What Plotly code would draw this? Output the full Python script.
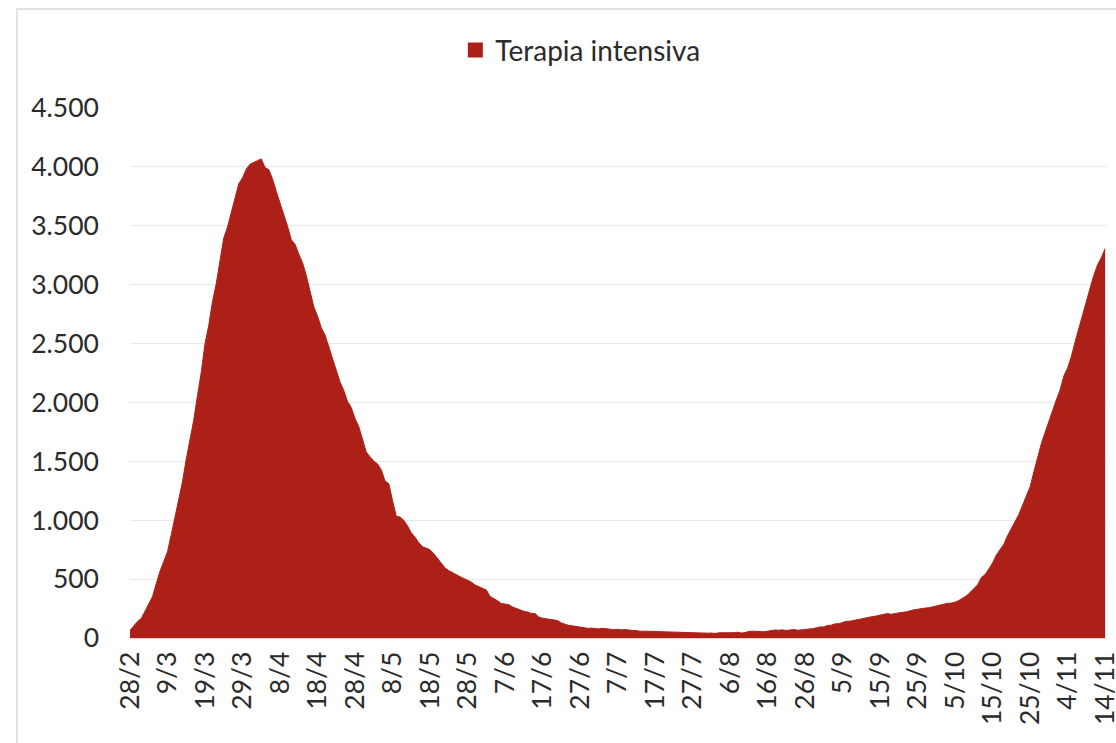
import pandas as pd
import plotly.graph_objects as go

# Pazienti in terapia intensiva, valori giornalieri (28/2 - 14/11)
feb = [64, 105]
mar = [140, 166, 229, 295, 351, 462, 567, 650, 733, 877, 1028, 1153, 1328, 1518, 1672,
       1851, 2060, 2257, 2498, 2655, 2857, 3009, 3204, 3396, 3489, 3612, 3732, 3856, 3906,
       3981, 4023]
apr = [4035, 4053, 4068, 3994, 3977, 3898, 3792, 3693, 3605, 3497, 3381, 3343, 3260, 3186,
       3079, 2936, 2812, 2733, 2635, 2573, 2471, 2384, 2267, 2173, 2102, 2009, 1956, 1863,
       1795, 1694]
may = [1578, 1539, 1501, 1479, 1427, 1333, 1311, 1168, 1034, 1027, 999, 952, 893, 855, 808,
       775, 762, 749, 716, 676, 640, 595, 572, 553, 541, 521, 505, 489, 475, 450, 435]
jun = [424, 408, 353, 338, 316, 293, 287, 283, 263, 249, 236, 227, 220, 209, 207, 178, 168,
       163, 161, 152, 148, 127, 115, 107, 103, 97, 94, 87, 82, 84]
jul = [79, 77, 82, 79, 72, 71, 74, 69, 72, 65, 64, 63, 57, 58, 57, 53, 56, 49, 48, 49, 48,
       50, 48, 45, 43, 41, 41, 40, 39, 42, 41]
aug = [42, 38, 44, 43, 41, 42, 45, 49, 42, 46, 56, 58, 55, 56, 53, 58, 65, 68, 66, 69, 64,
       67, 72, 66, 69, 69, 74, 79, 86, 94, 94]
sep = [107, 109, 120, 121, 133, 142, 143, 150, 154, 164, 174, 175, 182, 187, 197, 201, 207,
       201, 208, 215, 218, 222, 232, 239, 244, 246, 254, 257, 264, 271]
oct_ = [280, 291, 294, 297, 303, 319, 337, 358, 387, 420, 452, 514, 539, 586, 638, 705, 750,
        797, 870, 926, 992, 1049, 1128, 1208, 1284, 1411, 1536, 1651, 1746, 1843, 1939]
nov = [2022, 2107, 2225, 2292, 2391, 2515, 2634, 2749, 2849, 2971, 3081, 3170, 3230, 3306]

icu = feb + mar + apr + may + jun + jul + aug + sep + oct_ + nov
dates = pd.date_range("2020-02-28", periods=len(icu), freq="D")

tick_dates = dates[::10]
tick_labels = [f"{d.day}/{d.month}" for d in tick_dates]

RED = "#AD2017"
TXT = "#2b2b2b"
FONT = "Lato"
TICK_SIZE = 26.5

fig = go.Figure()
fig.add_trace(go.Scatter(
    x=dates, y=icu, mode="lines", fill="tozeroy",
    line=dict(color=RED, width=1), fillcolor=RED,
    showlegend=False, hoverinfo="x+y",
))
# legend entry with a square swatch
fig.add_trace(go.Scatter(
    x=[None], y=[None], mode="markers", name="Terapia intensiva",
    marker=dict(symbol="square", size=15, color=RED),
))

x_end = dates[-1] + pd.Timedelta(hours=12)

fig.update_layout(
    width=1116, height=743,
    margin=dict(l=130, r=9, t=108, b=105),
    paper_bgcolor="white", plot_bgcolor="white",
    separators=",.",
    font=dict(family=FONT, size=TICK_SIZE, color=TXT),
    legend=dict(
        orientation="h", x=0.333, xanchor="left", y=1.109, yanchor="middle",
        font=dict(family=FONT, size=28, color=TXT),
        bgcolor="rgba(0,0,0,0)", itemwidth=30,
    ),
    xaxis=dict(
        range=[dates[0], x_end], automargin=False,
        tickmode="array", tickvals=list(tick_dates), ticktext=tick_labels,
        tickangle=-90, ticks="", showgrid=False,
        showline=True, linecolor="#f2d0cd", linewidth=1,
        ticklabelstandoff=2, ticklabeloverflow="allow",
        tickfont=dict(family=FONT, size=TICK_SIZE, color=TXT),
    ),
    yaxis=dict(
        range=[0, 4500], automargin=False, tickmode="array",
        tickvals=[0, 500, 1000, 1500, 2000, 2500, 3000, 3500, 4000, 4500],
        tickformat=",d", showgrid=True, gridcolor="#e8e8e8", gridwidth=1,
        zeroline=False, showline=False, ticks="",
        ticklabelstandoff=30,
        tickfont=dict(family=FONT, size=TICK_SIZE, color=TXT),
    ),
    shapes=[dict(
        type="rect", xref="paper", yref="paper",
        x0=(17 - 130) / 977, x1=1.2, y0=(638 - 9) / 530, y1=-0.4,
        line=dict(color="#d9d9d9", width=1.5), fillcolor="rgba(0,0,0,0)", layer="below",
    )],
)

fig.write_html("out.html")
